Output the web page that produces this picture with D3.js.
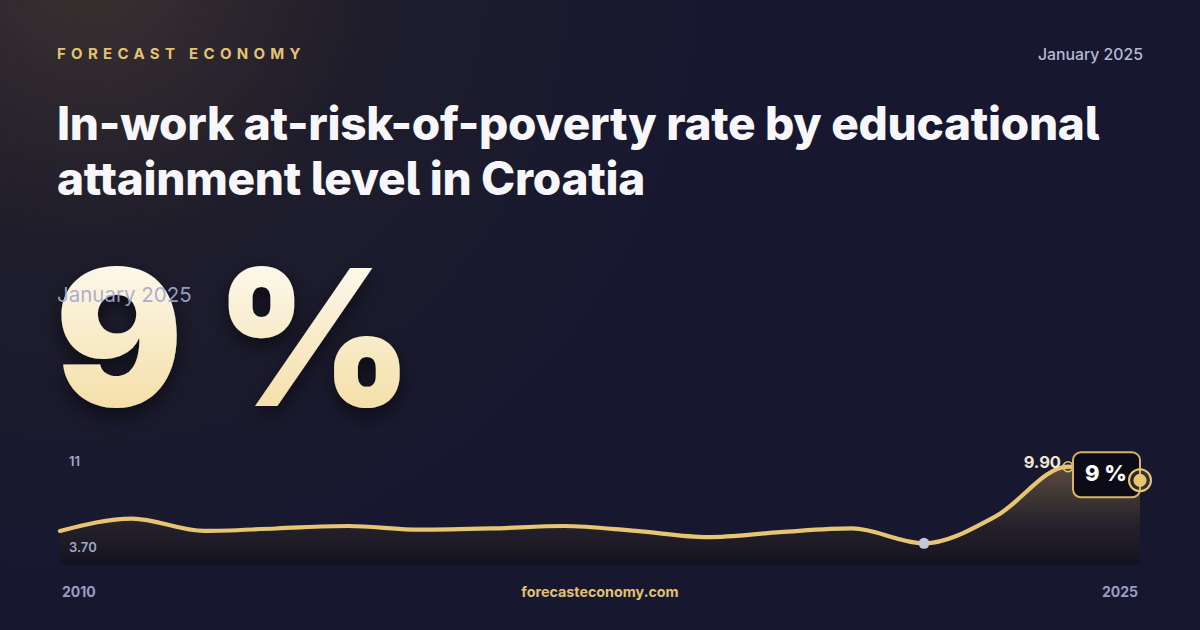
<!DOCTYPE html>
<html>
<head>
<meta charset="utf-8">
<script src="https://cdn.jsdelivr.net/npm/d3@7"></script>
<style>
  html, body { margin: 0; padding: 0; background: #161729; }
  svg { display: block; }
  .title { font-feature-settings: "cv05" 1; }
</style>
</head>
<body>
<svg id="chart"></svg>
<script>
// data
const years = [2010, 2011, 2012, 2013, 2014, 2015, 2016, 2017, 2018, 2019, 2020, 2021, 2022, 2023, 2024, 2025];
const values = [4.7, 5.7, 4.7, 4.9, 5.1, 4.8, 4.9, 5.1, 4.7, 4.2, 4.6, 4.9, 3.7, 5.9, 9.9, 8.8];
const yTickLabels = ["11", "3.70"];
const xTickLabels = ["2010", "2025"];
const headline = "9 %";
const period = "January 2025";
const titleLines = ["In-work at-risk-of-poverty rate by educational", "attainment level in Croatia"];

const width = 1200, height = 630;
const gold = "#e8c572";

const svg = d3.select("#chart").attr("width", width).attr("height", height);
const defs = svg.append("defs");

// background
const bg = defs.append("radialGradient").attr("id", "bgGlow")
  .attr("gradientUnits", "userSpaceOnUse")
  .attr("cx", 90).attr("cy", -40).attr("r", 620);
bg.append("stop").attr("offset", 0).attr("stop-color", "#3b3130");
bg.append("stop").attr("offset", 0.45).attr("stop-color", "#1f1d2b");
bg.append("stop").attr("offset", 1).attr("stop-color", "#171830");

svg.append("rect").attr("width", width).attr("height", height).attr("fill", "#181930");
svg.append("rect").attr("width", width).attr("height", height).attr("fill", "url(#bgGlow)");

// header
svg.append("text")
  .attr("x", 57).attr("y", 59)
  .attr("font-family", "Inter, sans-serif")
  .attr("font-weight", 700)
  .attr("font-size", 15)
  .attr("letter-spacing", 5.3)
  .attr("fill", "#e3c374")
  .text("FORECAST ECONOMY");

svg.append("text")
  .attr("x", 1143).attr("y", 60)
  .attr("text-anchor", "end")
  .attr("font-family", "Inter, sans-serif")
  .attr("font-weight", 500)
  .attr("font-size", 15.8)
  .attr("fill", "#b5b8d3")
  .text(period);

// title
svg.selectAll("text.title")
  .data(titleLines)
  .join("text")
  .attr("class", "title")
  .attr("x", 57)
  .attr("y", (d, i) => 140 + i * 55)
  .attr("font-family", "Inter, sans-serif")
  .attr("font-weight", 800)
  .attr("font-size", 46)
  .attr("letter-spacing", -0.3)
  .attr("fill", "#f7f7fb")
  .text(d => d);

// big number
const numGrad = defs.append("linearGradient").attr("id", "numGrad")
  .attr("x1", 0).attr("y1", 0).attr("x2", 0).attr("y2", 1);
numGrad.append("stop").attr("offset", 0).attr("stop-color", "#ffffff");
numGrad.append("stop").attr("offset", 1).attr("stop-color", "#f2d894");

const shadow = defs.append("filter").attr("id", "numShadow")
  .attr("x", "-20%").attr("y", "-20%").attr("width", "140%").attr("height", "150%");
shadow.append("feDropShadow")
  .attr("dx", 0).attr("dy", 8).attr("stdDeviation", 10)
  .attr("flood-color", "#000000").attr("flood-opacity", 0.55);

svg.append("text")
  .attr("x", 55).attr("y", 406)
  .attr("font-family", "Inter, sans-serif")
  .attr("font-weight", 900)
  .attr("font-size", 190)
  .attr("letter-spacing", -3)
  .attr("fill", "url(#numGrad)")
  .attr("filter", "url(#numShadow)")
  .text(headline);

svg.append("text")
  .attr("x", 57).attr("y", 302)
  .attr("font-family", "Inter, sans-serif")
  .attr("font-weight", 400)
  .attr("font-size", 20.5)
  .attr("fill", "#a4a8cc")
  .attr("fill-opacity", 0.92)
  .text(period);

// chart
const data = years.map((y, i) => ({ year: y, value: values[i] }));

const x = d3.scaleLinear()
  .domain(d3.extent(years))
  .range([60, 1140]);

const y = d3.scaleLinear()
  .domain(d3.extent(values))
  .range([543.3, 466.7]);

const chartBottom = 565;

const areaGrad = defs.append("linearGradient").attr("id", "areaGrad")
  .attr("gradientUnits", "userSpaceOnUse")
  .attr("x1", 0).attr("y1", y(d3.max(values))).attr("x2", 0).attr("y2", chartBottom);
areaGrad.append("stop").attr("offset", 0).attr("stop-color", "#5a4b3c");
areaGrad.append("stop").attr("offset", 0.6).attr("stop-color", "#25212b");
areaGrad.append("stop").attr("offset", 1).attr("stop-color", "#13131f");

const area = d3.area()
  .x(d => x(d.year))
  .y0(chartBottom)
  .y1(d => y(d.value))
  .curve(d3.curveMonotoneX);

const line = d3.line()
  .x(d => x(d.year))
  .y(d => y(d.value))
  .curve(d3.curveMonotoneX);

svg.append("path")
  .datum(data)
  .attr("d", area)
  .attr("fill", "url(#areaGrad)");

svg.append("path")
  .datum(data)
  .attr("d", line)
  .attr("fill", "none")
  .attr("stroke", gold)
  .attr("stroke-width", 4.2)
  .attr("stroke-linejoin", "round")
  .attr("stroke-linecap", "round");

// y labels
svg.selectAll("text.ylab")
  .data(yTickLabels)
  .join("text")
  .attr("class", "ylab")
  .attr("x", 69)
  .attr("y", (d, i) => i === 0 ? 466 : 552)
  .attr("font-family", "Inter, sans-serif")
  .attr("font-weight", 600)
  .attr("font-size", 13)
  .attr("fill", "#a3a6c6")
  .text(d => d);

// x labels
svg.selectAll("text.xlab")
  .data(xTickLabels)
  .join("text")
  .attr("class", "xlab")
  .attr("x", (d, i) => i === 0 ? 62 : 1138)
  .attr("y", 597)
  .attr("text-anchor", (d, i) => i === 0 ? "start" : "end")
  .attr("font-family", "Inter, sans-serif")
  .attr("font-weight", 700)
  .attr("font-size", 14)
  .attr("fill", "#9a9ebf")
  .text(d => d);

svg.append("text")
  .attr("x", 600).attr("y", 597)
  .attr("text-anchor", "middle")
  .attr("font-family", "Inter, sans-serif")
  .attr("font-weight", 700)
  .attr("font-size", 14.3)
  .attr("fill", "#e0c172")
  .text("forecasteconomy.com");

// min marker
const minD = data.find(d => d.value === d3.min(values));
svg.append("circle")
  .attr("cx", x(minD.year)).attr("cy", y(minD.value))
  .attr("r", 5.5)
  .attr("fill", "#c3c6de");

// max marker
const maxD = data.find(d => d.value === d3.max(values));
svg.append("circle")
  .attr("cx", x(maxD.year)).attr("cy", y(maxD.value))
  .attr("r", 5)
  .attr("fill", "none")
  .attr("stroke", gold)
  .attr("stroke-width", 1.5);

svg.append("text")
  .attr("x", x(maxD.year) - 7).attr("y", y(maxD.value) + 1.5)
  .attr("text-anchor", "end")
  .attr("font-family", "Inter, sans-serif")
  .attr("font-weight", 700)
  .attr("font-size", 16.5)
  .attr("fill", "#efe6d2")
  .text(maxD.value.toFixed(2));

// last point callout
const last = data[data.length - 1];
const lx = x(last.year), ly = y(last.value);

svg.append("rect")
  .attr("x", lx - 67).attr("y", ly - 28)
  .attr("width", 67).attr("height", 45)
  .attr("rx", 8)
  .attr("fill", "#0b0c18")
  .attr("stroke", "#d8b560")
  .attr("stroke-width", 2);

svg.append("text")
  .attr("x", lx - 34).attr("y", ly + 1)
  .attr("text-anchor", "middle")
  .attr("font-family", "Inter, sans-serif")
  .attr("font-weight", 800)
  .attr("font-size", 22)
  .attr("fill", "#ffffff")
  .text(headline);

svg.append("circle")
  .attr("cx", lx).attr("cy", ly)
  .attr("r", 11)
  .attr("fill", "rgba(232,197,114,0.15)")
  .attr("stroke", gold)
  .attr("stroke-width", 2);

svg.append("circle")
  .attr("cx", lx).attr("cy", ly)
  .attr("r", 6.5)
  .attr("fill", gold);
</script>
</body>
</html>
